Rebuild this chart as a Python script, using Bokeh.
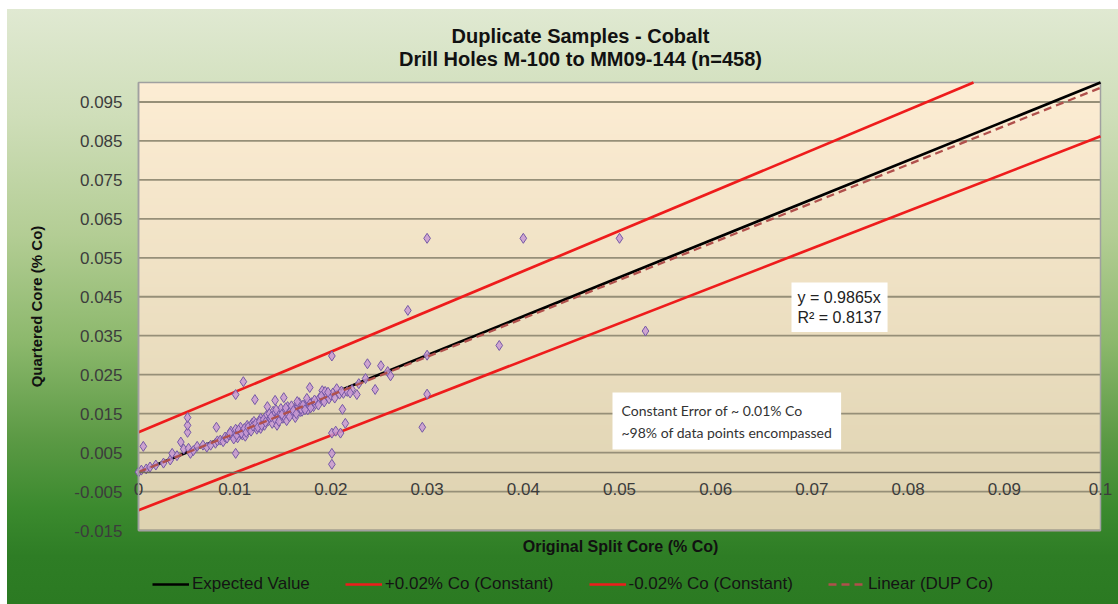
import math
import numpy as np
from bokeh.plotting import figure
from bokeh.models import (Range1d, FixedTicker, CustomJSTickFormatter, Label,
                          Legend, LegendItem, ColumnDataSource)
from bokeh.embed import file_html
from bokeh.resources import INLINE

# ---------------- data ----------------
title_lines = ["Duplicate Samples - Cobalt", "Drill Holes M-100 to MM09-144 (n=458)"]
x_title = "Original Split Core (% Co)"
y_title = "Quartered Core (% Co)"

x_ticks = [0, 0.01, 0.02, 0.03, 0.04, 0.05, 0.06, 0.07, 0.08, 0.09, 0.1]
y_ticks = [-0.015, -0.005, 0.005, 0.015, 0.025, 0.035, 0.045, 0.055, 0.065, 0.075, 0.085, 0.095]

dup_x = [0.0000, 0.0003, 0.0008, 0.0012, 0.0018, 0.0026, 0.0033, 0.0035, 0.0040, 0.0047,
         0.0052, 0.0054, 0.0057, 0.0061, 0.0067, 0.0071, 0.0075, 0.0080, 0.0082, 0.0085,
         0.0088, 0.0090, 0.0092, 0.0094, 0.0096, 0.0098, 0.0100, 0.0101, 0.0103, 0.0105,
         0.0106, 0.0108, 0.0109, 0.0111, 0.0113, 0.0115, 0.0116, 0.0118, 0.0120, 0.0121,
         0.0123, 0.0125, 0.0127, 0.0127, 0.0129, 0.0131, 0.0133, 0.0134, 0.0135, 0.0137,
         0.0139, 0.0140, 0.0141, 0.0142, 0.0144, 0.0145, 0.0147, 0.0148, 0.0150, 0.0151,
         0.0152, 0.0154, 0.0155, 0.0156, 0.0158, 0.0160, 0.0162, 0.0163, 0.0165, 0.0166,
         0.0168, 0.0170, 0.0172, 0.0174, 0.0176, 0.0178, 0.0180, 0.0182, 0.0184, 0.0186,
         0.0188, 0.0191, 0.0192, 0.0194, 0.0196, 0.0198, 0.0200, 0.0202, 0.0206, 0.0209,
         0.0213, 0.0217, 0.0222, 0.0227, 0.0229, 0.0236, 0.0238, 0.0246, 0.0252, 0.0259,
         0.0262,
         0.0095, 0.0099, 0.0102, 0.0104, 0.0107, 0.0110, 0.0112, 0.0114, 0.0117, 0.0119,
         0.0122, 0.0124, 0.0126, 0.0128, 0.0130, 0.0132, 0.0136, 0.0138, 0.0143, 0.0146,
         0.0149, 0.0153, 0.0157, 0.0159, 0.0161, 0.0164, 0.0167, 0.0169, 0.0171, 0.0173,
         0.0177, 0.0179, 0.0183, 0.0187, 0.0190, 0.0193, 0.0197, 0.0204, 0.0211, 0.0220,
         0.0005, 0.0044, 0.0051, 0.0051, 0.0051, 0.0081, 0.0101, 0.0101, 0.0109, 0.0121,
         0.0142, 0.0151, 0.0165, 0.0175, 0.0178, 0.0201, 0.0201, 0.0205, 0.0210, 0.0201,
         0.0201, 0.0212, 0.0215, 0.0280, 0.0300, 0.0400, 0.0500, 0.0527, 0.0375, 0.0300,
         0.0300, 0.0295]
dup_y = [0.0000, 0.0005, 0.0008, 0.0013, 0.0018, 0.0023, 0.0031, 0.0048, 0.0042, 0.0059,
         0.0061, 0.0048, 0.0055, 0.0066, 0.0069, 0.0064, 0.0069, 0.0074, 0.0080, 0.0082,
         0.0078, 0.0090, 0.0087, 0.0095, 0.0105, 0.0092, 0.0098, 0.0110, 0.0088, 0.0102,
         0.0115, 0.0095, 0.0105, 0.0092, 0.0120, 0.0108, 0.0112, 0.0125, 0.0130, 0.0118,
         0.0110, 0.0122, 0.0138, 0.0112, 0.0128, 0.0120, 0.0145, 0.0168, 0.0132, 0.0138,
         0.0125, 0.0156, 0.0148, 0.0135, 0.0120, 0.0142, 0.0152, 0.0163, 0.0138, 0.0143,
         0.0158, 0.0132, 0.0168, 0.0148, 0.0156, 0.0150, 0.0162, 0.0140, 0.0172, 0.0168,
         0.0155, 0.0156, 0.0165, 0.0175, 0.0160, 0.0170, 0.0178, 0.0168, 0.0175, 0.0181,
         0.0190, 0.0209, 0.0185, 0.0207, 0.0195, 0.0188, 0.0197, 0.0203, 0.0214, 0.0200,
         0.0202, 0.0207, 0.0212, 0.0199, 0.0227, 0.0240, 0.0278, 0.0212, 0.0273, 0.0258,
         0.0247,
         0.0100, 0.0085, 0.0095, 0.0108, 0.0100, 0.0112, 0.0102, 0.0115, 0.0105, 0.0118,
         0.0125, 0.0115, 0.0130, 0.0120, 0.0135, 0.0128, 0.0150, 0.0142, 0.0160, 0.0130,
         0.0148, 0.0165, 0.0142, 0.0170, 0.0158, 0.0150, 0.0178, 0.0162, 0.0172, 0.0160,
         0.0180, 0.0165, 0.0185, 0.0172, 0.0195, 0.0180, 0.0205, 0.0190, 0.0208, 0.0203,
         0.0066, 0.0077, 0.0102, 0.0120, 0.0140, 0.0115, 0.0048, 0.0199, 0.0232, 0.0186,
         0.0184, 0.0191, 0.0181, 0.0189, 0.0217, 0.0298, 0.0100, 0.0105, 0.0100, 0.0048,
         0.0020, 0.0161, 0.0125, 0.0415, 0.0600, 0.0600, 0.0600, 0.0362, 0.0325, 0.0300,
         0.0200, 0.0115]

expected_x = [0.0, 0.1]
expected_y = [0.0, 0.1]
upper_x = [0.0, 0.0868]
upper_y = [0.0102, 0.1]
lower_x = [0.0, 0.1]
lower_y = [-0.0098, 0.0862]
trend_x = [0.0, 0.1]
trend_y = [0.0, 0.09865]

trend_text = "y = 0.9865x\nR\u00b2 = 0.8137"
note_text = "Constant Error of ~ 0.01% Co\n~98% of data points encompassed"
legend_labels = ["Expected Value", "+0.02% Co (Constant)", "-0.02% Co (Constant)", "Linear (DUP Co)"]

# ---------------- layout constants ----------------
W, H = 1118, 604
PL, PR, PT, PB = 138, 1100, 82, 530          # plot-area box in page pixels
XMIN, XMAX, YMIN, YMAX = 0.0, 0.1, -0.015, 0.1  # plot-area box in data units
sx = (PR - PL) / (XMAX - XMIN)
sy = (PB - PT) / (YMAX - YMIN)
x_lo, x_hi = XMIN - PL / sx, XMAX + (W - PR) / sx
y_lo, y_hi = YMIN - (H - PB) / sy, YMAX + PT / sy


def dx(px):
    return x_lo + px / sx


def dy(py):
    return y_hi - py / sy


p = figure(width=W, height=H, x_range=Range1d(x_lo, x_hi), y_range=Range1d(y_lo, y_hi),
           output_backend="svg", toolbar_location=None, min_border=0,
           min_border_left=0, min_border_right=0, min_border_top=0, min_border_bottom=0)
p.border_fill_color = None
p.background_fill_color = None
p.outline_line_color = None
p.styles = {
    "background": "linear-gradient(to bottom, #e0e9d2 0%, #cfdeb9 18%, #b3cd94 38%, #8cb86c 56%, "
                  "#5c9a45 72%, #3b8a2e 84%, #2e7d25 92%, #2b7a22 100%) 7px 9px / calc(100% - 7px) calc(100% - 9px) no-repeat, #ffffff"
}

# plot-area vertical gradient (decoration)
n = 120
top = np.array([0xfd, 0xed, 0xd4], dtype=float)
bot = np.array([0xde, 0xd3, 0xb1], dtype=float)
t = np.linspace(0.0, 1.0, n)[:, None]
cols = bot * (1 - t) + top * t
img = np.empty((n, 2), dtype=np.uint32)
view = img.view(dtype=np.uint8).reshape((n, 2, 4))
for c in range(2):
    view[:, c, 0] = cols[:, 0].astype(np.uint8)
    view[:, c, 1] = cols[:, 1].astype(np.uint8)
    view[:, c, 2] = cols[:, 2].astype(np.uint8)
    view[:, c, 3] = 255
p.image_rgba(image=[img], x=XMIN, y=YMIN, dw=XMAX - XMIN, dh=YMAX - YMIN, level="image")

# horizontal grid lines (limited to the plot area)
p.segment(x0=[XMIN] * len(y_ticks), x1=[XMAX] * len(y_ticks), y0=y_ticks, y1=y_ticks,
          line_color="#968f78", line_width=1.8, level="underlay")
# plot-area border
p.quad(left=[XMIN], right=[XMAX], bottom=[YMIN], top=[YMAX], fill_color=None,
       line_color="#a0a0a0", line_width=1.5, level="underlay")
p.xgrid.visible = False
p.ygrid.visible = False

# axes (drawn at fixed locations inside the frame)
fmt = CustomJSTickFormatter(code="return String(Math.round(tick*1000)/1000);")
p.xaxis.ticker = FixedTicker(ticks=x_ticks)
p.yaxis.ticker = FixedTicker(ticks=y_ticks)
p.xaxis.formatter = fmt
p.yaxis.formatter = fmt
p.xaxis.fixed_location = 0
p.yaxis.fixed_location = XMIN
p.xaxis.bounds = (XMIN, XMAX)
p.yaxis.bounds = (YMIN, YMAX)
for ax in (p.xaxis, p.yaxis):
    ax.major_tick_out = 0
    ax.major_tick_in = 0
    ax.minor_tick_line_color = None
    ax.major_label_text_font = "Liberation Sans"
    ax.major_label_text_font_size = "17px"
    ax.major_label_text_color = "#3c3c3c"
    ax.axis_label_text_font = "Liberation Sans"
    ax.axis_label_text_font_style = "bold"
    ax.axis_label_text_font_size = "15px"
    ax.axis_label_text_color = "#111111"
p.xaxis.axis_line_color = "#6f6a5c"
p.xaxis.axis_line_width = 1.6
p.xaxis.major_label_standoff = 11
p.yaxis.axis_line_color = "#a0a0a0"
p.yaxis.axis_line_width = 1.5
p.yaxis.major_label_standoff = 16
p.yaxis.axis_label = y_title
p.yaxis.axis_label_standoff = 26

# series
r_exp = p.line(expected_x, expected_y, line_color="#000000", line_width=2.7)
r_up = p.line(upper_x, upper_y, line_color="#ee1c1c", line_width=2.7)
r_lo = p.line(lower_x, lower_y, line_color="#ee1c1c", line_width=2.7)
src = ColumnDataSource(dict(x=dup_x, y=dup_y))
p.scatter("x", "y", source=src, marker="diamond", size=10, fill_color="#c99ad3",
          fill_alpha=0.85, line_color="#7559a6", line_width=1)
r_tr = p.line(trend_x, trend_y, line_color="#b0504c", line_width=2.3, line_dash="8 5")

legend = Legend(items=[LegendItem(label=legend_labels[0], renderers=[r_exp]),
                       LegendItem(label=legend_labels[1], renderers=[r_up]),
                       LegendItem(label=legend_labels[2], renderers=[r_lo]),
                       LegendItem(label=legend_labels[3], renderers=[r_tr])],
                orientation="horizontal", location=(152, 10),
                border_line_color=None, background_fill_alpha=0,
                label_text_font="Liberation Sans", label_text_font_size="17px",
                label_text_color="#141414", glyph_width=37, label_standoff=3,
                spacing=35, padding=0, margin=0)
p.add_layout(legend)

# titles
for txt, py in ((title_lines[0], 35), (title_lines[1], 58)):
    p.add_layout(Label(x=dx(580), y=dy(py), text=txt, text_align="center",
                       text_baseline="middle", text_font="Liberation Sans", text_font_style="bold",
                       text_font_size="20px", text_color="#111111"))
p.add_layout(Label(x=dx(620), y=dy(546), text=x_title, text_align="center",
                   text_baseline="middle", text_font="Liberation Sans", text_font_style="bold",
                   text_font_size="16px", text_color="#111111"))

# annotation boxes
p.add_layout(Label(x=dx(791), y=dy(282), text=trend_text, text_align="left", text_baseline="top",
                   text_font="Liberation Sans", text_font_size="16px", text_color="#222222",
                   text_line_height=1.2, background_fill_color="#ffffff", padding=6))
p.add_layout(Label(x=dx(612), y=dy(392), text=note_text, text_align="left", text_baseline="top",
                   text_font="Lato", text_font_size="14px", text_color="#333333",
                   text_line_height=1.3, background_fill_color="#ffffff", padding=9))

open("out.html", "w").write(file_html(p, INLINE))
